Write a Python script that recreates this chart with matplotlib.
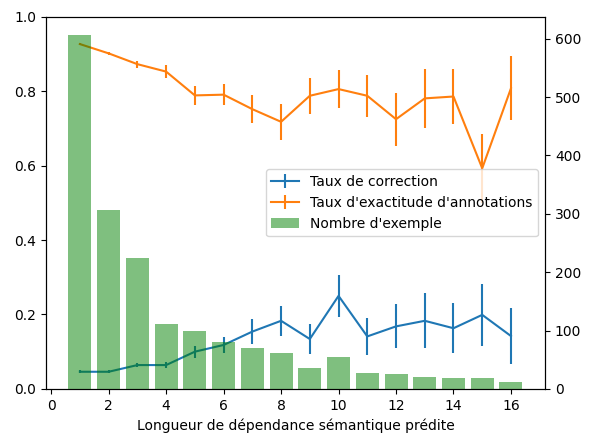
import numpy as np
import matplotlib
matplotlib.use("Agg")
import matplotlib.pyplot as plt

# dependency lengths
lengths = list(range(1, 17))

# correction rate (mean and error)
correction = [0.046, 0.046, 0.064, 0.064, 0.100, 0.118, 0.154, 0.183,
              0.134, 0.250, 0.141, 0.168, 0.183, 0.163, 0.199, 0.142]
correction_err = [0.004, 0.004, 0.006, 0.009, 0.016, 0.022, 0.034, 0.040,
                  0.041, 0.057, 0.050, 0.059, 0.074, 0.067, 0.083, 0.076]

# annotation accuracy rate (mean and error)
accuracy = [0.927, 0.902, 0.873, 0.853, 0.789, 0.791, 0.752, 0.718,
            0.788, 0.806, 0.788, 0.725, 0.781, 0.786, 0.593, 0.808]
accuracy_err = [0.002, 0.005, 0.009, 0.017, 0.026, 0.029, 0.038, 0.048,
                0.048, 0.052, 0.057, 0.071, 0.079, 0.075, 0.092, 0.086]

# number of examples per length
counts = [607, 306, 225, 111, 99, 80, 70, 61, 35, 54, 27, 25, 20, 18, 18, 11]

fig, ax1 = plt.subplots(figsize=(5.9, 4.34), dpi=100)
fig.subplots_adjust(left=0.0775, right=0.924, top=0.961, bottom=0.104)

l1 = ax1.errorbar(lengths, correction, yerr=correction_err, label="Taux de correction")
l2 = ax1.errorbar(lengths, accuracy, yerr=accuracy_err, label="Taux d'exactitude d'annotations")
ax1.set_ylim(0, 1)
ax1.set_xlabel("Longueur de dépendance sémantique prédite")

ax2 = ax1.twinx()
b = ax2.bar(lengths, counts, color="green", alpha=0.5, label="Nombre d'exemple")

ax1.legend([l1, l2, b], [l1.get_label(), l2.get_label(), b.get_label()], loc="center right")

plt.savefig("out.png")
